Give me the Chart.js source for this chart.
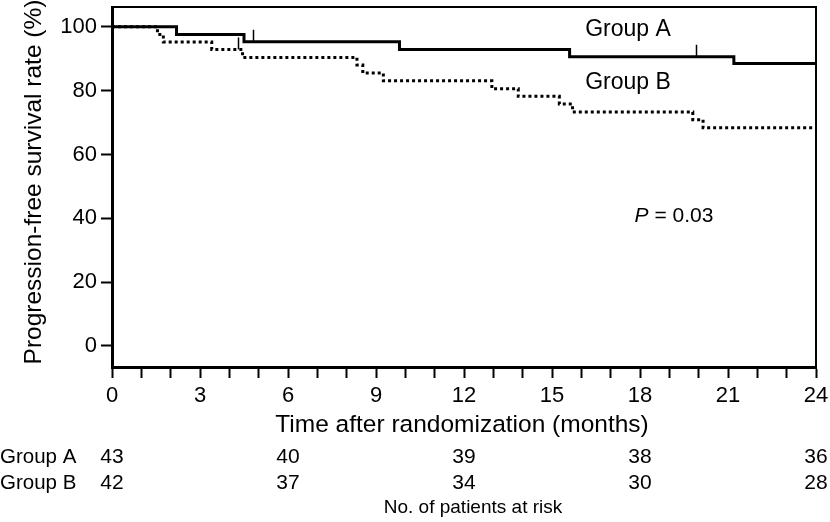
<!DOCTYPE html>
<html>
<head>
<meta charset="utf-8">
<script src="https://cdn.jsdelivr.net/npm/chart.js@4.4.1/dist/chart.umd.min.js"></script>
<style>
  html, body { margin: 0; padding: 0; background: #fff; }
  #wrap { width: 830px; height: 522px; position: relative; }
</style>
</head>
<body>
<div id="wrap"><canvas id="km"></canvas></div>
<script>
// survival curves (step points, months / %)
const timesA = [0, 2.2, 4.5, 9.8, 15.6, 21.2, 24];
const survA = [100, 97.6, 95.3, 92.9, 90.6, 88.5, 88.5];
const censorA = [4.8, 19.9];

const timesB = [0, 1.55, 1.75, 3.4, 4.45, 8.35, 8.55, 9.25, 12.95, 13.85, 15.25, 15.7, 19.8, 20.15, 24];
const survB = [100, 97.6, 95.2, 92.9, 90.4, 88.0, 85.5, 83.1, 80.6, 78.2, 75.8, 73.3, 70.9, 68.4, 68.4];
const censorB = [4.3];

// axis ticks
const yTicks = [0, 20, 40, 60, 80, 100];
const xLabelEvery = 3;

// number at risk table
const riskTimes = [0, 6, 12, 18, 24];
const riskA = [43, 40, 39, 38, 36];
const riskB = [42, 37, 34, 30, 28];

const FONT = '"Liberation Sans", Arial, Helvetica, sans-serif';

function levelAt(times, surv, t) {
  let v = surv[0];
  for (let i = 0; i < times.length; i++) {
    if (times[i] <= t) v = surv[i];
  }
  return v;
}

const toXY = (times, surv) => times.map((t, i) => ({ x: t, y: surv[i] }));

// frame, censor marks, titles and risk table
const extras = {
  id: 'extras',
  afterDraw(chart) {
    const { ctx, chartArea: a, scales: { x, y } } = chart;
    ctx.save();

    // top / right frame
    ctx.strokeStyle = '#000';
    ctx.lineWidth = 2;
    ctx.beginPath();
    ctx.moveTo(a.left, a.top);
    ctx.lineTo(a.right, a.top);
    ctx.lineTo(a.right, a.bottom);
    ctx.stroke();

    // censor ticks
    ctx.lineWidth = 1.5;
    const drawCensor = (list, times, surv) => {
      list.forEach(t => {
        const px = Math.round(x.getPixelForValue(t)) + 0.5;
        const py = y.getPixelForValue(levelAt(times, surv, t));
        ctx.beginPath();
        ctx.moveTo(px, py);
        ctx.lineTo(px, py - 12);
        ctx.stroke();
      });
    };
    drawCensor(censorA, timesA, survA);
    drawCensor(censorB, timesB, survB);

    ctx.fillStyle = '#000';
    ctx.textBaseline = 'middle';

    // y title
    ctx.save();
    ctx.translate(34, 182);
    ctx.rotate(-Math.PI / 2);
    ctx.textAlign = 'center';
    ctx.font = '24.5px ' + FONT;
    ctx.fillText('Progression-free survival rate (%)', 0, 0);
    ctx.restore();

    // x title
    ctx.textAlign = 'center';
    ctx.font = '24.5px ' + FONT;
    ctx.fillText('Time after randomization (months)', 462, 425);

    // group labels in the plot
    ctx.font = '23px ' + FONT;
    ctx.fillText('Group A', 628, 30);
    ctx.fillText('Group B', 628, 83);

    // P value
    ctx.font = 'italic 21px ' + FONT;
    const wP = ctx.measureText('P').width;
    ctx.font = '21px ' + FONT;
    const rest = ' = 0.03';
    const wR = ctx.measureText(rest).width;
    const px0 = 674 - (wP + wR) / 2;
    ctx.textAlign = 'left';
    ctx.font = 'italic 21px ' + FONT;
    ctx.fillText('P', px0, 216);
    ctx.font = '21px ' + FONT;
    ctx.fillText(rest, px0 + wP, 216);

    // risk table
    ctx.font = '20.5px ' + FONT;
    ctx.textAlign = 'left';
    ctx.fillText('Group A', 0, 457);
    ctx.fillText('Group B', 0, 483);
    ctx.textAlign = 'center';
    ctx.font = '21px ' + FONT;
    riskTimes.forEach((t, i) => {
      const px = x.getPixelForValue(t);
      ctx.fillText(String(riskA[i]), px, 457);
      ctx.fillText(String(riskB[i]), px, 483);
    });
    ctx.font = '19px ' + FONT;
    ctx.fillText('No. of patients at risk', 473, 508);

    ctx.restore();
  }
};

new Chart(document.getElementById('km'), {
  type: 'line',
  data: {
    datasets: [
      {
        label: 'Group A',
        data: toXY(timesA, survA),
        stepped: 'before',
        borderColor: '#000',
        borderWidth: 3,
        pointRadius: 0,
        fill: false
      },
      {
        label: 'Group B',
        data: toXY(timesB, survB),
        stepped: 'before',
        borderColor: '#000',
        borderWidth: 3,
        borderDash: [3, 3],
        borderCapStyle: 'butt',
        pointRadius: 0,
        fill: false
      }
    ]
  },
  options: {
    responsive: true,
    maintainAspectRatio: false,
    animation: false,
    devicePixelRatio: 1,
    layout: { padding: { top: 7, right: 14, left: 0, bottom: 0 } },
    plugins: { legend: { display: false }, tooltip: { enabled: false } },
    scales: {
      x: {
        type: 'linear',
        min: 0,
        max: 24,
        afterFit(s) { s.height = 155; s.paddingLeft = 0; s.paddingRight = 0; },
        ticks: {
          stepSize: 1,
          autoSkip: false,
          maxRotation: 0,
          padding: 5,
          color: '#000',
          font: { family: FONT, size: 22 },
          callback: v => (v % xLabelEvery === 0 ? String(v) : '')
        },
        grid: { drawOnChartArea: false, tickLength: 11, tickWidth: 2, tickColor: '#000' },
        border: { color: '#000', width: 3 }
      },
      y: {
        min: -6.6,
        max: 106.2,
        afterBuildTicks(s) { s.ticks = yTicks.map(v => ({ value: v })); },
        afterFit(s) { s.width = 112; s.paddingTop = 0; s.paddingBottom = 0; },
        ticks: {
          padding: 4,
          color: '#000',
          font: { family: FONT, size: 22 }
        },
        grid: { drawOnChartArea: false, tickLength: 11, tickWidth: 2, tickColor: '#000' },
        border: { color: '#000', width: 3 }
      }
    }
  },
  plugins: [extras]
});
</script>
</body>
</html>
